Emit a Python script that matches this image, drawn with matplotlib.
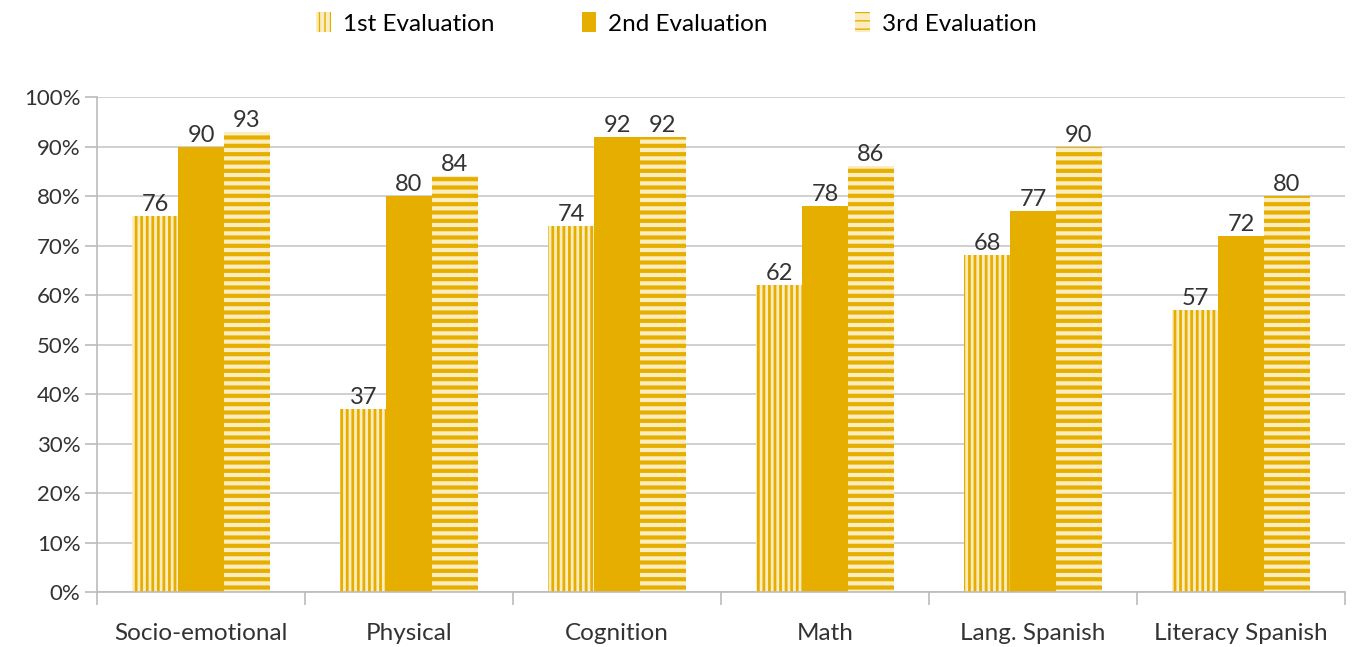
import numpy as np
import matplotlib.pyplot as plt
from matplotlib.ticker import MultipleLocator, FuncFormatter

plt.rcParams['font.family'] = ['Lato', 'DejaVu Sans']

categories = ["Socio-emotional", "Physical", "Cognition", "Math", "Lang. Spanish", "Literacy Spanish"]
first = [76, 37, 74, 62, 68, 57]
second = [90, 80, 92, 78, 77, 72]
third = [93, 84, 92, 86, 90, 80]
series_names = ["1st Evaluation", "2nd Evaluation", "3rd Evaluation"]

gold = "#E6AF00"
pale = "#FBEDC0"
txt = "#333333"

fig = plt.figure(figsize=(13.53, 6.47), dpi=100)
ax = fig.add_axes([0.0717, 0.085, 0.9224, 0.765])

x = np.arange(len(categories))
w = 0.22
with plt.rc_context({'hatch.linewidth': 2.0}):
    b1 = ax.bar(x - w, first, w, facecolor=pale, edgecolor=gold, hatch="|||", linewidth=0, label=series_names[0])
b2 = ax.bar(x, second, w, color=gold, linewidth=0, label=series_names[1])
with plt.rc_context({'hatch.linewidth': 3.0}):
    b3 = ax.bar(x + w, third, w, facecolor=pale, edgecolor=gold, hatch="--", linewidth=0, label=series_names[2])

for bars in (b1, b2, b3):
    for r in bars:
        ax.text(r.get_x() + r.get_width() / 2, r.get_height() + 0.2, str(int(r.get_height())),
                ha="center", va="bottom", fontsize=17, color=txt)

ax.set_ylim(0, 100)
ax.set_xlim(-0.5, len(categories) - 0.5)
ax.yaxis.set_major_locator(MultipleLocator(10))
ax.yaxis.set_major_formatter(FuncFormatter(lambda v, p: f"{int(v)}%"))
ax.grid(axis="y", color="#c8c8c8", linewidth=1.2)
ax.set_axisbelow(True)

ax.set_xticks(x)
ax.set_xticklabels(categories, fontsize=17.5, color=txt)
ax.set_xticks(np.arange(-0.5, len(categories)), minor=True)
ax.tick_params(axis="x", which="major", length=0, pad=22)
ax.tick_params(axis="x", which="minor", length=9, color="#bbbbbb", width=1.2)
ax.tick_params(axis="y", length=9, color="#bbbbbb", width=1.2, labelsize=16, labelcolor=txt, pad=3)

for s in ["top", "right"]:
    ax.spines[s].set_visible(False)
for s in ["bottom", "left"]:
    ax.spines[s].set_color("#bbbbbb")
    ax.spines[s].set_linewidth(1.2)

fig.legend(handles=[b1, b2, b3], loc="upper center", bbox_to_anchor=(0.5, 1.015), ncol=3,
           frameon=False, fontsize=17.5, handlelength=0.6, handleheight=0.9,
           columnspacing=3.6, handletextpad=0.5)

fig.savefig("out.png", dpi=100)
